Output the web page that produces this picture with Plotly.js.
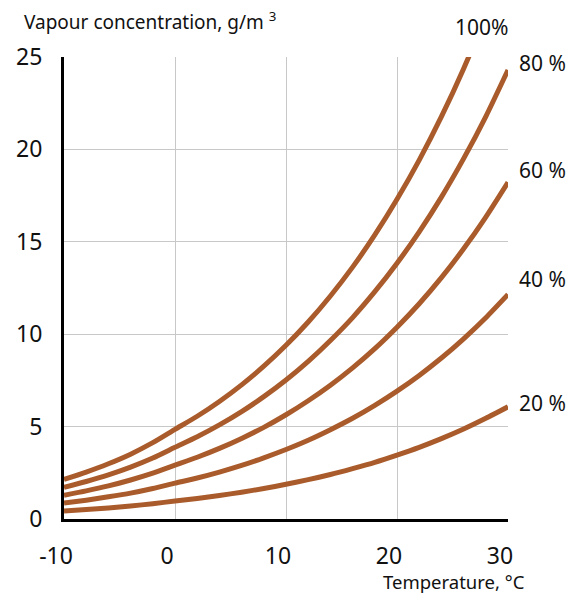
<!DOCTYPE html>
<html>
<head>
<meta charset="utf-8">
<script src="https://cdn.plot.ly/plotly-3.0.1.min.js"></script>
<style>html,body{margin:0;padding:0;background:#fff;}</style>
</head>
<body>
<div id="chart" style="width:576px;height:600px;"></div>
<script>
// Temperature, °C
const temps = [-10,-8,-6,-4,-2,0,2,4,6,8,10,12,14,16,18,20,22,24,26,28,30];
// Vapour concentration, g/m3, per relative humidity curve
const rh100 = [2.14,2.54,2.99,3.51,4.13,4.85,5.56,6.36,7.26,8.27,9.40,10.66,12.07,13.63,15.37,17.30,19.42,21.77,24.37,27.23,30.37];
const rh80  = [1.71,2.03,2.39,2.81,3.30,3.88,4.45,5.09,5.81,6.62,7.52,8.53,9.66,10.90,12.30,13.84,15.54,17.42,19.50,21.78,24.30];
const rh60  = [1.28,1.52,1.79,2.11,2.48,2.91,3.34,3.82,4.36,4.96,5.64,6.40,7.24,8.18,9.22,10.38,11.65,13.06,14.62,16.34,18.22];
const rh40  = [0.86,1.02,1.20,1.40,1.65,1.94,2.22,2.54,2.90,3.31,3.76,4.26,4.83,5.45,6.15,6.92,7.77,8.71,9.75,10.89,12.15];
const rh20  = [0.43,0.51,0.60,0.70,0.83,0.97,1.11,1.27,1.45,1.65,1.88,2.13,2.41,2.73,3.07,3.46,3.88,4.35,4.87,5.45,6.07];
const seriesNames = ['100%','80 %','60 %','40 %','20 %'];
const labelY = [null, 24.7, 18.9, 13.0, 6.3];
const xTicks = [-10,0,10,20,30];
const yTicks = [0,5,10,15,20,25];

const FONT = '"Noto Sans", "Open Sans", sans-serif';
const COLOR = '#AA5B2B';
const allSeries = [rh100, rh80, rh60, rh40, rh20];

const traces = allSeries.map((ys, i) => ({
  x: temps, y: ys, type: 'scatter', mode: 'lines',
  line: {color: COLOR, width: 5, shape: 'spline', smoothing: 0.6},
  name: seriesNames[i], hoverinfo: 'skip'
}));

const annotations = [];
seriesNames.forEach((n, i) => {
  if (i === 0) {
    annotations.push({xref: 'paper', yref: 'paper', x: 0.941, y: 1.065, text: n,
      showarrow: false, xanchor: 'center', yanchor: 'middle', font: {family: FONT, size: 21, color: '#111'}});
  } else {
    annotations.push({xref: 'paper', yref: 'y', x: 1.02, y: labelY[i], text: n,
      showarrow: false, xanchor: 'left', yanchor: 'middle', font: {family: FONT, size: 21, color: '#111'}});
  }
});
annotations.push({xref: 'paper', yref: 'paper', x: -0.095, y: 1.078, xanchor: 'left', yanchor: 'middle',
  text: 'Vapour concentration, g/m <sup>3</sup>', showarrow: false, font: {family: FONT, size: 19, color: '#111'}});
annotations.push({xref: 'paper', yref: 'paper', x: 1.043, y: -0.136, xanchor: 'right', yanchor: 'middle',
  text: 'Temperature, °C', showarrow: false, font: {family: FONT, size: 18.5, color: '#111'}});

const layout = {
  width: 576, height: 600,
  margin: {l: 64, r: 68, t: 57, b: 81, pad: 0},
  paper_bgcolor: '#fff', plot_bgcolor: '#fff',
  showlegend: false,
  font: {family: FONT, color: '#111'},
  xaxis: {
    range: [-10, 30], tickvals: xTicks, ticktext: xTicks.map(String),
    showgrid: true, gridcolor: '#c8c8c8', gridwidth: 1, zeroline: false,
    showline: true, linecolor: '#000', linewidth: 3, ticks: '',
    tickfont: {family: FONT, size: 23, color: '#111'}, ticklabelstandoff: 14, ticklabelshift: -8
  },
  yaxis: {
    range: [0, 25], tickvals: yTicks, ticktext: yTicks.map(String),
    showgrid: true, gridcolor: '#c8c8c8', gridwidth: 1, zeroline: false,
    showline: true, linecolor: '#000', linewidth: 3, ticks: '',
    tickfont: {family: FONT, size: 23, color: '#111'}, ticklabelstandoff: 14
  },
  annotations: annotations
};

Plotly.newPlot('chart', traces, layout, {displayModeBar: false, staticPlot: true});
</script>
</body>
</html>
